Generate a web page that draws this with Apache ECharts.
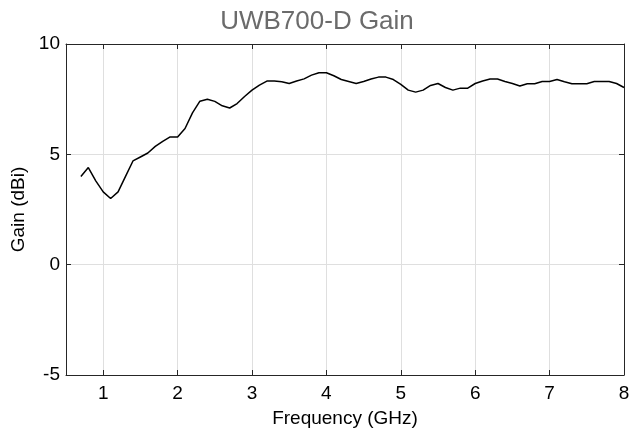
<!DOCTYPE html>
<html>
<head>
<meta charset="utf-8">
<script src="https://cdn.jsdelivr.net/npm/echarts@6/dist/echarts.min.js"></script>
<style>
  html, body { margin: 0; padding: 0; background: #fff; }
  #chart { width: 634px; height: 434px; }
</style>
</head>
<body>
<div id="chart"></div>
<script>
// frequency points (GHz)
var freq = [0.7, 0.8, 0.9, 1.0, 1.1, 1.2, 1.3, 1.4, 1.5, 1.6, 1.7, 1.8, 1.9,
  2.0, 2.1, 2.2, 2.3, 2.4, 2.5, 2.6, 2.7, 2.8, 2.9,
  3.0, 3.1, 3.2, 3.3, 3.4, 3.5, 3.6, 3.7, 3.8, 3.9,
  4.0, 4.1, 4.2, 4.3, 4.4, 4.5, 4.6, 4.7, 4.8, 4.9,
  5.0, 5.1, 5.2, 5.3, 5.4, 5.5, 5.6, 5.7, 5.8, 5.9,
  6.0, 6.1, 6.2, 6.3, 6.4, 6.5, 6.6, 6.7, 6.8, 6.9,
  7.0, 7.1, 7.2, 7.3, 7.4, 7.5, 7.6, 7.7, 7.8, 7.9, 8.0]
// gain (dBi)
var gain = [4.0, 4.4, 3.8, 3.3, 3.0, 3.3, 4.0, 4.7, 4.88, 5.06, 5.36, 5.59, 5.79,
  5.79, 6.17, 6.88, 7.41, 7.5, 7.4, 7.2, 7.1, 7.3, 7.62,
  7.91, 8.14, 8.32, 8.32, 8.29, 8.21, 8.32, 8.42, 8.59, 8.7,
  8.7, 8.56, 8.39, 8.3, 8.21, 8.3, 8.41, 8.5, 8.5, 8.39,
  8.17, 7.91, 7.82, 7.91, 8.12, 8.21, 8.03, 7.91, 8.0, 8.0,
  8.21, 8.32, 8.41, 8.41, 8.3, 8.21, 8.1, 8.2, 8.2, 8.3,
  8.3, 8.39, 8.29, 8.2, 8.2, 8.2, 8.3, 8.3, 8.3, 8.21, 8.03]
var xTicks = [1, 2, 3, 4, 5, 6, 7, 8]

var font = 'Liberation Sans, Arial, sans-serif'
var axisColor = '#262626'
var gridColor = '#dfdfdf'

var chart = echarts.init(document.getElementById('chart'))

// bottom/top x axes share the same scale (box around the plot)
function xAx(pos, showLabel) {
  return {
    type: 'value',
    position: pos,
    min: 0.5,
    max: 8,
    axisLine: { show: true, onZero: false, lineStyle: { color: axisColor, width: 1 } },
    axisTick: { show: true, inside: true, length: 5, customValues: xTicks, lineStyle: { color: axisColor } },
    axisLabel: { show: showLabel, customValues: xTicks, margin: 9, color: '#000', fontSize: 19, fontFamily: font },
    splitLine: { show: showLabel, lineStyle: { color: gridColor, width: 1 } },
    name: showLabel ? 'Frequency (GHz)' : '',
    nameLocation: 'middle',
    nameGap: 34,
    nameTextStyle: { color: '#000', fontSize: 19, fontFamily: font }
  }
}
function yAx(pos, showLabel) {
  return {
    type: 'value',
    position: pos,
    min: -5,
    max: 10,
    interval: 5,
    axisLine: { show: true, onZero: false, lineStyle: { color: axisColor, width: 1 } },
    axisTick: { show: true, inside: true, length: 5, lineStyle: { color: axisColor } },
    axisLabel: { show: showLabel, margin: 6, color: '#000', fontSize: 19, fontFamily: font },
    splitLine: { show: showLabel, lineStyle: { color: gridColor, width: 1 } },
    name: showLabel ? 'Gain (dBi)' : '',
    nameLocation: 'middle',
    nameGap: 25,
    nameTextStyle: { color: '#000', fontSize: 19, fontFamily: font }
  }
}

chart.setOption({
  backgroundColor: '#fff',
  animation: false,
  title: {
    text: 'UWB700-D Gain',
    left: 'center',
    top: 4,
    textStyle: { color: '#6b6b6b', fontSize: 26, fontWeight: 'normal', fontFamily: font }
  },
  grid: { left: 66, right: 10, top: 44, bottom: 59 },
  xAxis: [xAx('bottom', true), xAx('top', false)],
  yAxis: [yAx('left', true), yAx('right', false)],
  series: [{
    type: 'line',
    xAxisIndex: 0,
    yAxisIndex: 0,
    showSymbol: false,
    lineStyle: { color: '#000', width: 1.5 },
    data: freq.map(function (f, i) { return [f, gain[i]] })
  }]
})
</script>
</body>
</html>
